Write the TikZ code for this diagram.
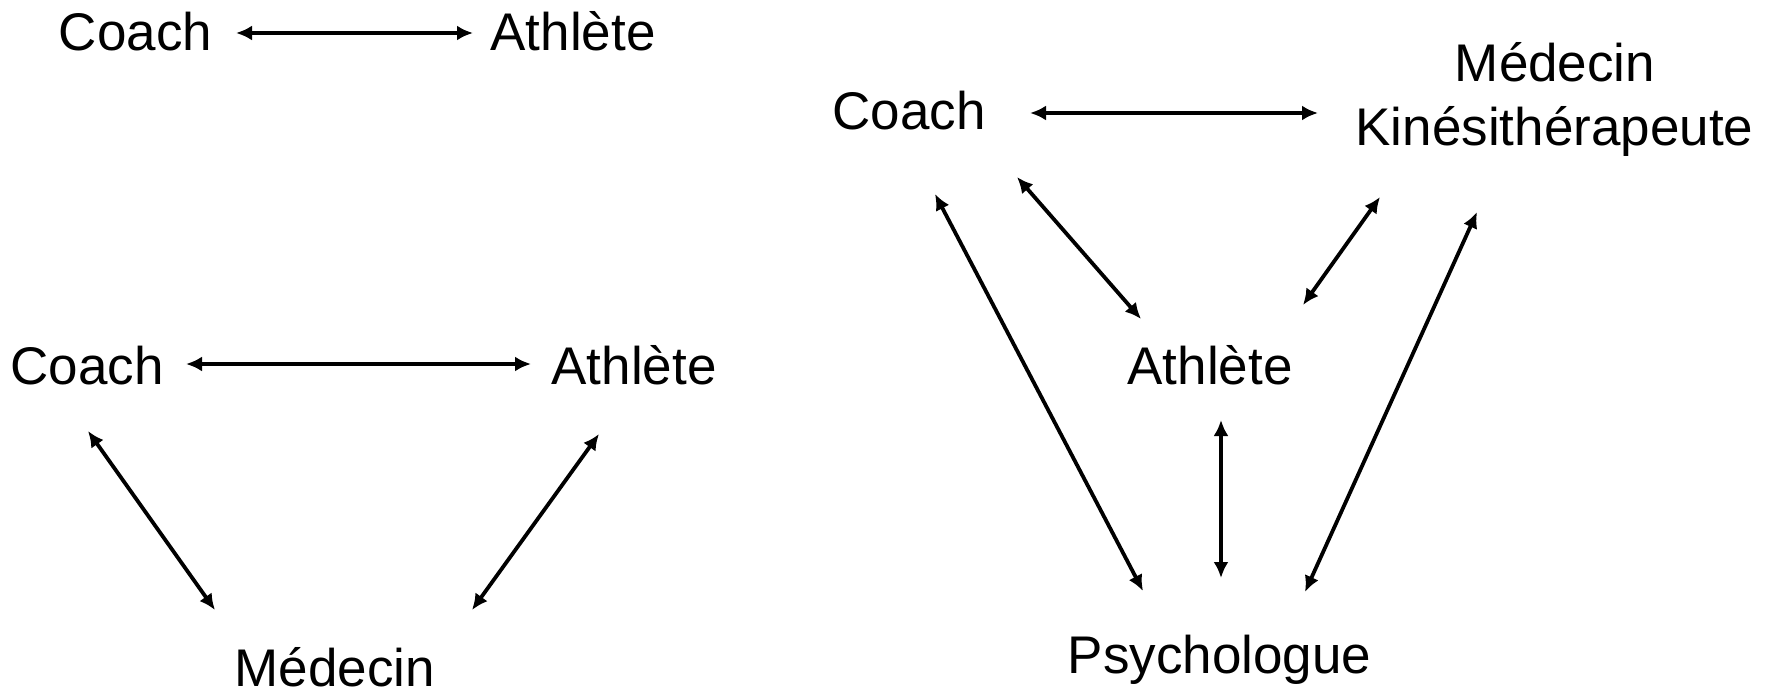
\documentclass[tikz,border=0pt]{standalone}
\usepackage{fontspec}
\setmainfont{Liberation Sans}
\usetikzlibrary{arrows.meta}
\tikzset{
  lbl/.style={anchor=base, inner sep=0pt, font=\fontsize{26.5pt}{30pt}\selectfont},
  link/.style={line width=1.9pt, {Latex[length=8pt,width=7.5pt]}-{Latex[length=8pt,width=7.5pt]}}
}
\begin{document}
\begin{tikzpicture}[x=0.5pt,y=-0.5pt]
\useasboundingbox (0,0) rectangle (1771,690);
% top pair
\node[lbl] (c1) at (135.5,51) {Coach};
\node[lbl] (a1) at (573,51) {Athlète};
\coordinate (c1e) at (236,33);
\coordinate (a1w) at (473,33);
\draw[link] (c1e) -- (a1w);
% triangle
\node[lbl] (c2) at (87,384) {Coach};
\node[lbl] (a2) at (634,384) {Athlète};
\node[lbl] (m2) at (335,686) {Médecin};
\coordinate (c2e) at (186,364);
\coordinate (a2w) at (531,364);
\coordinate (c2s) at (88,431);
\coordinate (m2nw) at (215,610);
\coordinate (a2s) at (599,434);
\coordinate (m2ne) at (472,610);
\draw[link] (c2e) -- (a2w);
\draw[link] (c2s) -- (m2nw);
\draw[link] (a2s) -- (m2ne);
% right diagram
\node[lbl] (c3) at (909,129) {Coach};
\node[lbl] (m3) at (1555,82) {Médecin};
\node[lbl] (k3) at (1554.5,146) {Kinésithérapeute};
\node[lbl] (a3) at (1210,384) {Athlète};
\node[lbl] (p3) at (1219.5,673) {Psychologue};
\coordinate (c3e) at (1030,113);
\coordinate (k3w) at (1318,113);
\coordinate (c3s1) at (935,194);
\coordinate (p3nw) at (1143,591);
\coordinate (c3s2) at (1017,177);
\coordinate (a3nw) at (1141,319);
\coordinate (k3s1) at (1380,197);
\coordinate (a3ne) at (1303,305);
\coordinate (k3s2) at (1477,212);
\coordinate (p3ne) at (1305,592);
\coordinate (a3s) at (1221,420);
\coordinate (p3n) at (1221,578);
\draw[link] (c3e) -- (k3w);
\draw[link] (c3s1) -- (p3nw);
\draw[link] (c3s2) -- (a3nw);
\draw[link] (k3s1) -- (a3ne);
\draw[link] (k3s2) -- (p3ne);
\draw[link] (a3s) -- (p3n);
\end{tikzpicture}
\end{document}
